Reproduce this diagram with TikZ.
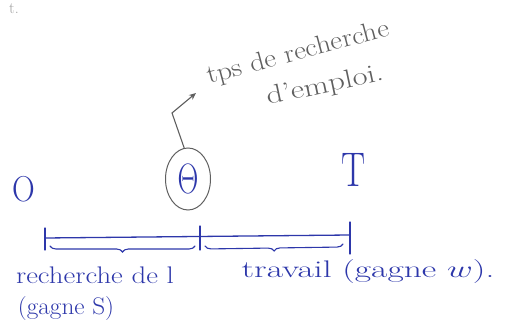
\RequirePackage{fix-cm}
\documentclass[tikz,border=0pt]{standalone}
\usetikzlibrary{shapes.geometric,decorations.pathreplacing,arrows.meta}
\definecolor{pen}{RGB}{45,55,170}
\definecolor{pencil}{RGB}{95,95,95}
\begin{document}
\begin{tikzpicture}[x=1pt,y=-1pt,
  pentext/.style={text=pen, inner sep=0pt},
  penciltext/.style={text=pencil, inner sep=0pt, anchor=base west, font=\fontsize{26}{26}\selectfont},
  penline/.style={draw=pen, line width=1.3pt, line cap=round},
  pencilline/.style={draw=pencil, line width=1.1pt, line cap=round},
  bracestyle/.style={penline, line width=1.1pt, decorate, decoration={brace, mirror, amplitude=6pt}}]
\useasboundingbox (0,0) rectangle (511,336);
% faint fragment at top-left
\node[text=pencil!60, inner sep=0pt, font=\fontsize{16}{16}\selectfont] (frag) at (14,9) {t.};
% time points
\node[pentext, font=\fontsize{30}{30}\selectfont] (O) at (24,189) {\scalebox{1.05}[1.2]{O}};
\node[ellipse, draw=pencil, line width=1pt, text=pen, minimum width=45pt, minimum height=62pt, inner sep=0pt, font=\fontsize{34}{34}\selectfont] (th) at (188,179) {\scalebox{0.85}[1.25]{$\Theta$}};
\node[pentext, font=\fontsize{36}{36}\selectfont] (T) at (354,170) {\scalebox{1}[1.35]{T}};
% axis
\coordinate (a0) at (45,238);
\coordinate (a1) at (200,237);
\coordinate (a2) at (350,235);
\draw[penline] (a0) -- (a2);
\draw[penline] (45,228) -- (45,250);
\draw[penline] (200,226) -- (200,250);
\draw[penline] (350,222) -- (350,254);
% braces
\coordinate (b0) at (50,246);
\coordinate (b1) at (195,246);
\coordinate (b2) at (205,246);
\coordinate (b3) at (343,244);
\draw[bracestyle] (b0) -- (b1);
\draw[bracestyle] (b2) -- (b3);
% annotation
\node[penciltext, rotate=15] (t1) at (209,84) {\scalebox{1.12}[1]{tps de recherche}};
\node[penciltext, rotate=12] (t2) at (268,105) {\scalebox{1.25}[1]{d'emploi.}};
\coordinate (bend) at (172,113);
\coordinate (tip) at (196,93);
\draw[pencilline, -{Stealth[length=7pt,width=6pt]}] (th.97) -- (bend) -- (tip);
% labels
\node[pentext, font=\fontsize{24}{24}\selectfont] (r1) at (95,275) {\scalebox{1.2}[1]{recherche de l}};
\node[pentext, font=\fontsize{24}{24}\selectfont] (r2) at (66,309) {\scalebox{1.05}[1]{(gagne S)}};
\node[pentext, font=\fontsize{24}{24}\selectfont] (tr) at (368,272) {\scalebox{1.48}[1]{travail (gagne $w$).}};
\end{tikzpicture}
\end{document}
